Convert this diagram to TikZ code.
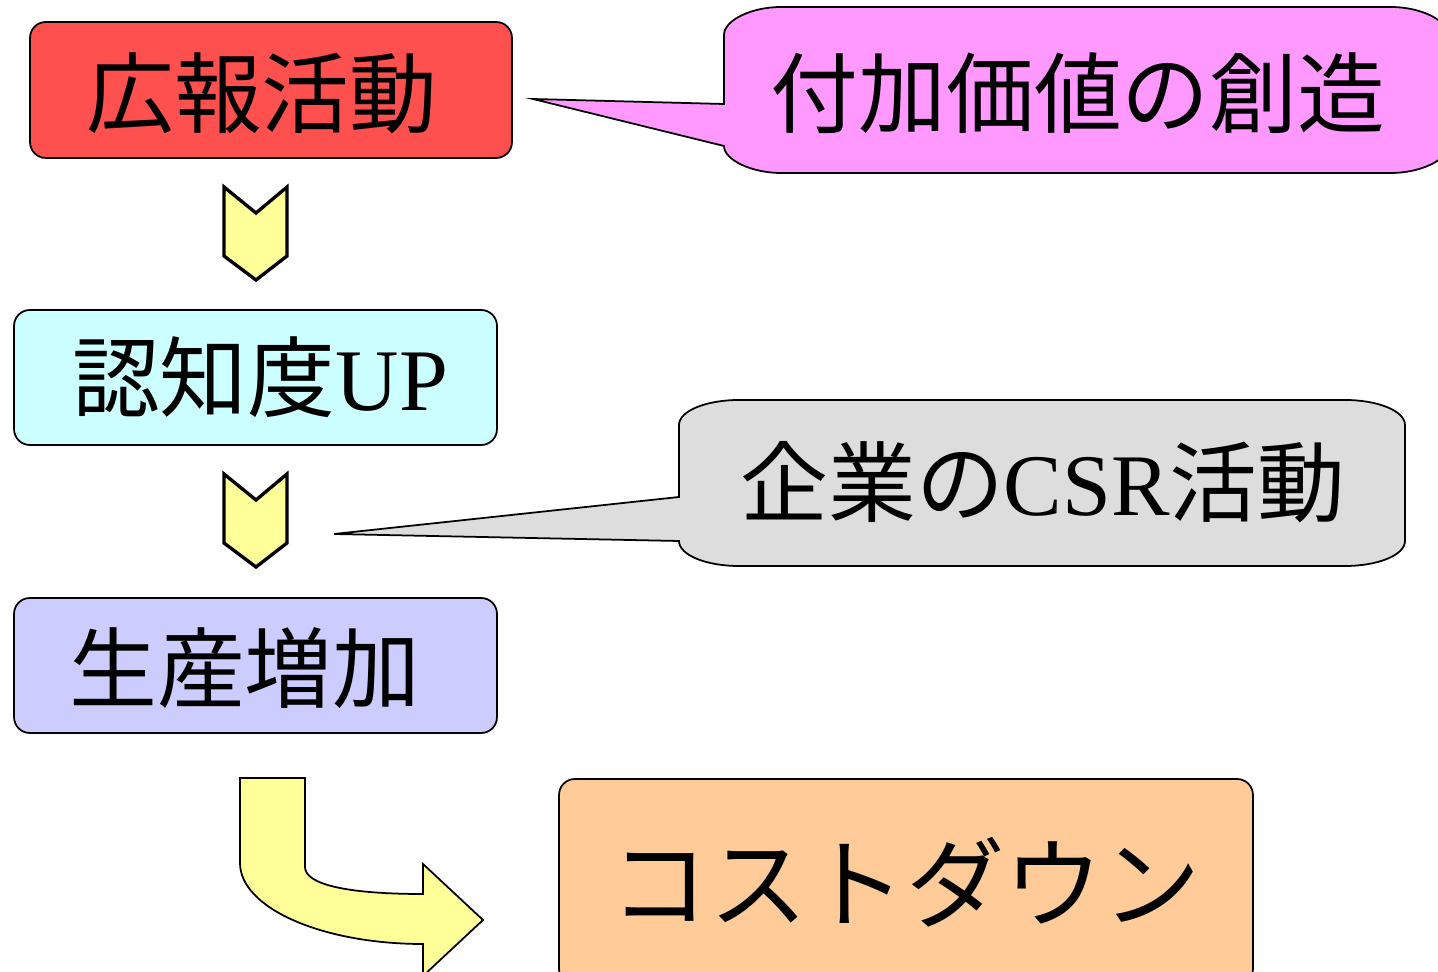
\documentclass[tikz,border=0pt]{standalone}
\usepackage{fontspec}
\setmainfont{Liberation Serif}
\newfontfamily\cjk{Noto Sans CJK JP}
\definecolor{cRed}{HTML}{FF5050}
\definecolor{cCyan}{HTML}{CCFFFF}
\definecolor{cLav}{HTML}{CCCCFF}
\definecolor{cPeach}{HTML}{FFCC99}
\definecolor{cPink}{HTML}{FF99FF}
\definecolor{cGray}{HTML}{DDDDDD}
\definecolor{cYel}{HTML}{FFFF99}
\begin{document}
\begin{tikzpicture}[x=0.02cm,y=-0.02cm,
  box/.style={draw=black, line width=1pt, rounded corners=9pt, inner sep=0pt},
  txt/.style={inner sep=0pt, font=\fontsize{50pt}{60pt}\selectfont\cjk},
  callout/.style={draw=black, line width=1pt, line join=miter},
  chev/.style={draw=black, fill=cYel, line width=1.9pt, line join=miter},
  bent/.style={draw=black, fill=cYel, line width=1pt, line join=miter}]
\useasboundingbox (0,0) rectangle (1438,972);

% boxes
\node[box, fill=cRed, minimum width=9.64cm, minimum height=2.72cm] (b1) at (271,90) {};
\node[box, fill=cCyan, minimum width=9.66cm, minimum height=2.70cm] (b2) at (255.5,377.5) {};
\node[box, fill=cLav, minimum width=9.66cm, minimum height=2.70cm] (b3) at (255.5,665.5) {};
\node[box, fill=cPeach, minimum width=13.88cm, minimum height=4.12cm] (b4) at (906,882) {};

\node[txt] (t1) at (262,93) {広報活動};
\node[txt] (t2) at (260,377) {認知度{\rmfamily UP}};
\node[txt] (t3) at (245,668) {生産増加};
\node[txt, font=\fontsize{56pt}{66pt}\selectfont\cjk] (t4) at (906,882) {コストダウン};

% callouts
\coordinate (tipA) at (533,99);
\draw[callout, fill=cPink] (tipA) -- (724,104) -- (724,35)
  .. controls (724,20) and (752,7) .. (781,7) -- (1391,7)
  .. controls (1420,7) and (1448,20) .. (1448,35) -- (1448,146)
  .. controls (1448,160) and (1420,173) .. (1391,173) -- (781,173)
  .. controls (752,173) and (724,160) .. (724,146) -- cycle;
\node[txt] (t5) at (1078,93) {付加価値の創造};

\coordinate (tipB) at (334,534);
\draw[callout, fill=cGray] (tipB) -- (679,497) -- (679,425)
  .. controls (679,411) and (706,400) .. (739,400) -- (1345,400)
  .. controls (1378,400) and (1405,411) .. (1405,425) -- (1405,541)
  .. controls (1405,555) and (1378,566) .. (1345,566) -- (739,566)
  .. controls (706,566) and (679,555) .. (679,541) -- cycle;
\node[txt] (t6) at (1043,482) {企業の{\rmfamily CSR}活動};

% chevrons
\draw[chev] (224,187) -- (256,213) -- (287,187) -- (287,256) -- (256,280) -- (224,256) -- cycle;
\draw[chev] (224,474) -- (256,500) -- (287,474) -- (287,543) -- (256,567) -- (224,543) -- cycle;

% bent arrow
\draw[bent] (240,778) -- (305,778) -- (305,867)
  .. controls (305,884) and (345,894) .. (423,894) -- (423,864) -- (483,920) -- (423,976) -- (423,944)
  .. controls (322,944) and (240,908) .. (240,863) -- cycle;
\end{tikzpicture}
\end{document}
